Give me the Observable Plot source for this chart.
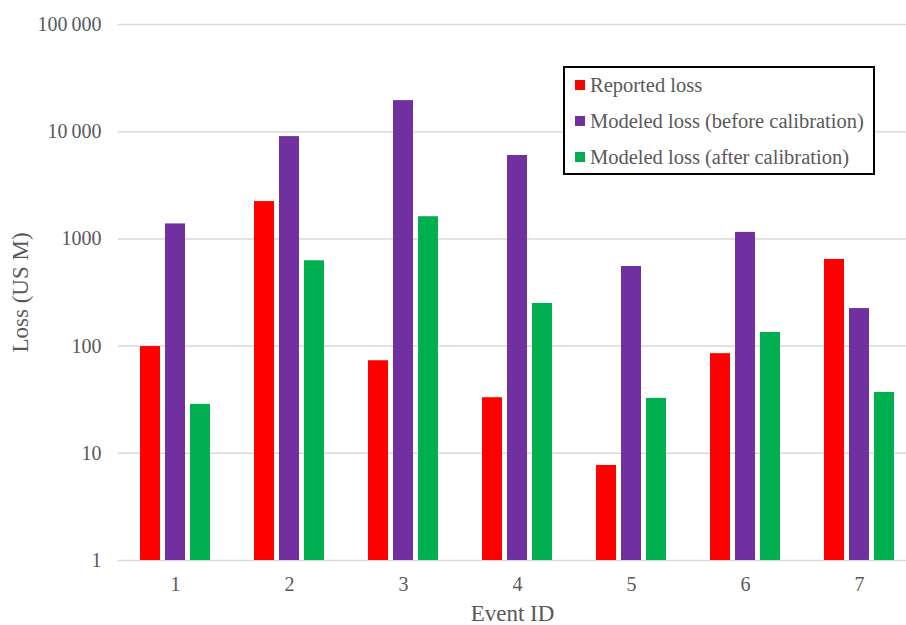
<!DOCTYPE html>
<html>
<head>
<meta charset="utf-8">
<script src="https://cdn.jsdelivr.net/npm/d3@7"></script>
<script src="https://cdn.jsdelivr.net/npm/@observablehq/plot@0.6"></script>
<style>
  html, body { margin: 0; padding: 0; background: #fff; }
  #wrap { position: relative; width: 906px; height: 625px; font-family: "Liberation Serif", "Times New Roman", serif; }
  #legend { position: absolute; left: 563px; top: 66px; width: 308px; height: 105px; border: 2px solid #000; background: #fff; box-sizing: content-box; }
  #legend .item { position: absolute; left: 10px; display: flex; align-items: center; font-size: 20.5px; line-height: 24px; color: #595959; white-space: nowrap; }
  #legend .sw { width: 10px; height: 10px; margin-right: 5px; }
</style>
</head>
<body>
<div id="wrap"><div id="legend"></div></div>
<script>
const events = ["1", "2", "3", "4", "5", "6", "7"];
const seriesNames = ["Reported loss", "Modeled loss (before calibration)", "Modeled loss (after calibration)"];
const seriesColors = ["#FF0000", "#7030A0", "#00B050"];
const reported = [99, 2230, 73, 33, 7.7, 85, 643];
const modeledBefore = [1380, 9000, 19500, 6000, 553, 1150, 224];
const modeledAfter = [28.6, 625, 1610, 250, 32.5, 134, 37];
const yTicks = [1, 10, 100, 1000, 10000, 100000];
const yTickLabels = ["1", "10", "100", "1000", "10\u2009000", "100\u2009000"];

const seriesValues = [reported, modeledBefore, modeledAfter];
const rows = seriesValues.map(vals => events.map((e, i) => ({event: e, value: vals[i]})));
const offsets = [-25, 0, 25];

const font = "Liberation Serif, Times New Roman, serif";
const chart = Plot.plot({
  width: 906,
  height: 625,
  marginLeft: 118,
  marginRight: 0,
  marginTop: 24,
  marginBottom: 65,
  style: {fontFamily: font, fontSize: "20px", color: "#595959", background: "transparent"},
  x: {domain: events, range: [118, 916], padding: 0},
  y: {type: "log", domain: [1, 100000]},
  marks: [
    Plot.ruleY(yTicks, {stroke: "#d9d9d9", strokeWidth: 1.5}),
    ...rows.map((data, k) => Plot.barY(data, {
      x: "event", y1: 1, y2: "value",
      fill: seriesColors[k], insetLeft: 47, insetRight: 47, dx: offsets[k]
    })),
    Plot.axisY({ticks: yTicks, tickFormat: (d) => yTickLabels[yTicks.indexOf(d)], tickSize: 0, tickPadding: 17,
      label: "Loss (US M)", labelAnchor: "center", labelArrow: "none", labelOffset: 107, fontSize: 20}),
    Plot.axisX({tickSize: 0, tickPadding: 16, label: "Event ID", labelAnchor: "center", labelArrow: "none", labelOffset: 60, fontSize: 20})
  ]
});
const wrap = document.getElementById("wrap");
wrap.insertBefore(chart, wrap.firstChild);
chart.style.position = "absolute";
chart.style.left = "0";
chart.style.top = "0";
// larger axis titles
chart.querySelectorAll("g[aria-label='y-axis label'] text, g[aria-label='x-axis label'] text").forEach(t => t.setAttribute("font-size", "23"));

const legend = document.getElementById("legend");
seriesNames.forEach((name, k) => {
  const it = document.createElement("div");
  it.className = "item";
  it.style.top = (5 + 36 * k) + "px";
  const sw = document.createElement("span");
  sw.className = "sw";
  sw.style.background = seriesColors[k];
  const tx = document.createElement("span");
  tx.textContent = name;
  it.appendChild(sw); it.appendChild(tx);
  legend.appendChild(it);
});
</script>
</body>
</html>
